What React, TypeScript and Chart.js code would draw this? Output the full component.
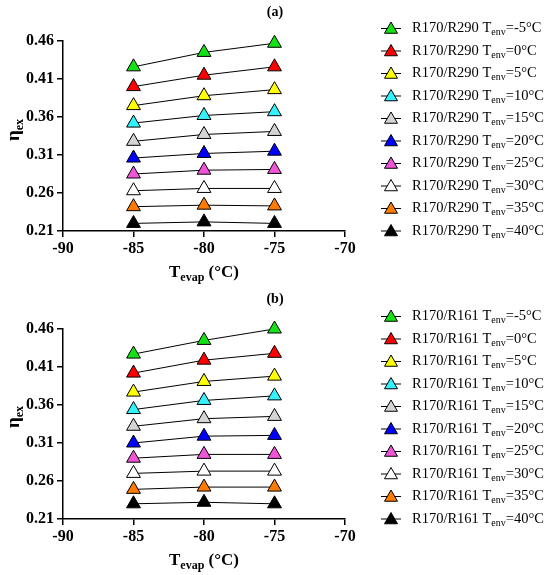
import { Chart, registerables, Plugin } from 'chart.js';
import { FC, useEffect, useRef } from 'react';

Chart.register(...registerables);

// evaporating temperatures and the tick marks of both panels
const evapTemps = [-85, -80, -75];
const xTicks = [-90, -85, -80, -75, -70];
const yTicks = [0.21, 0.26, 0.31, 0.36, 0.41, 0.46];
const envTemps = [-5, 0, 5, 10, 15, 20, 25, 30, 35, 40];

// panel (a): R170/R290
const r290_m5 = [0.426, 0.445, 0.457];
const r290_0 = [0.4, 0.415, 0.426];
const r290_5 = [0.375, 0.388, 0.396];
const r290_10 = [0.352, 0.362, 0.367];
const r290_15 = [0.328, 0.337, 0.341];
const r290_20 = [0.306, 0.312, 0.315];
const r290_25 = [0.285, 0.29, 0.291];
const r290_30 = [0.263, 0.266, 0.266];
const r290_35 = [0.242, 0.244, 0.243];
const r290_40 = [0.22, 0.222, 0.22];

// panel (b): R170/R161
const r161_m5 = [0.427, 0.445, 0.46];
const r161_0 = [0.402, 0.419, 0.428];
const r161_5 = [0.377, 0.391, 0.398];
const r161_10 = [0.354, 0.366, 0.372];
const r161_15 = [0.332, 0.342, 0.345];
const r161_20 = [0.31, 0.319, 0.32];
const r161_25 = [0.29, 0.295, 0.295];
const r161_30 = [0.27, 0.273, 0.273];
const r161_35 = [0.249, 0.252, 0.252];
const r161_40 = [0.23, 0.232, 0.23];

const r290Series = [r290_m5, r290_0, r290_5, r290_10, r290_15, r290_20, r290_25, r290_30, r290_35, r290_40];
const r161Series = [r161_m5, r161_0, r161_5, r161_10, r161_15, r161_20, r161_25, r161_30, r161_35, r161_40];

const markerColors = [
	'#16e016',
	'#ff0000',
	'#ffff00',
	'#33f2ff',
	'#d4d4d4',
	'#0000ff',
	'#f055d8',
	'#ffffff',
	'#ff7a00',
	'#000000',
];

const FAMILY = '"Liberation Serif", "Times New Roman", serif';

type Part = [string, boolean];

// draws text with subscript pieces
const drawRich = (
	ctx: CanvasRenderingContext2D,
	parts: Part[],
	x: number,
	y: number,
	size: number,
	subSize: number,
	bold: boolean,
	align: 'left' | 'center'
) => {
	const font = (s: number) => `${bold ? 'bold ' : ''}${s}px ${FAMILY}`;
	let w = 0;
	parts.forEach(([t, sub]) => {
		ctx.font = font(sub ? subSize : size);
		w += ctx.measureText(t).width;
	});
	let cx = align === 'center' ? x - w / 2 : x;
	ctx.textAlign = 'left';
	ctx.textBaseline = 'middle';
	ctx.fillStyle = '#000';
	parts.forEach(([t, sub]) => {
		ctx.font = font(sub ? subSize : size);
		ctx.fillText(t, cx, y + (sub ? size * 0.3 : 0));
		cx += ctx.measureText(t).width;
	});
};

const triangle = (ctx: CanvasRenderingContext2D, x: number, y: number, r: number, fill: string) => {
	ctx.beginPath();
	ctx.moveTo(x, y - r);
	ctx.lineTo(x + r * 0.866, y + r * 0.5);
	ctx.lineTo(x - r * 0.866, y + r * 0.5);
	ctx.closePath();
	ctx.fillStyle = fill;
	ctx.fill();
	ctx.lineWidth = 1;
	ctx.strokeStyle = '#000';
	ctx.stroke();
};

interface Props {
	tag: string;
	name: string;
	series: number[][];
	height: number;
	padTop: number;
}

const Panel: FC<Props> = ({ tag, name, series, height, padTop }) => {
	const canvasRef = useRef<HTMLCanvasElement | null>(null);

	useEffect(() => {
		if (!canvasRef.current) return;

		// titles, panel tag and the legend are drawn here
		const extras: Plugin<'line'> = {
			id: 'extras',
			afterDraw(chart) {
				const { ctx, chartArea } = chart;
				ctx.save();
				drawRich(ctx, [[tag, false]], 275, 12, 14, 14, true, 'center');
				const midX = (chartArea.left + chartArea.right) / 2;
				drawRich(ctx, [['T', false], ['evap', true], [' (°C)', false]], midX, chartArea.bottom + 42, 17, 12, true, 'center');

				ctx.save();
				ctx.translate(14, 130);
				ctx.rotate(-Math.PI / 2);
				drawRich(ctx, [['η', false], ['ex', true]], 0, 0, 19, 12, true, 'center');
				ctx.restore();

				const step = 22.5;
				const top = chartArea.bottom - step * (envTemps.length - 1);
				envTemps.forEach((t, i) => {
					const y = top + i * step;
					ctx.beginPath();
					ctx.moveTo(381, y);
					ctx.lineTo(401, y);
					ctx.lineWidth = 1;
					ctx.strokeStyle = '#000';
					ctx.stroke();
					triangle(ctx, 391, y + 1, 7.5, markerColors[i]);
					drawRich(ctx, [[name + ' T', false], ['env', true], [`=${t}°C`, false]], 412, y, 14.5, 10, false, 'left');
				});
				ctx.restore();
			},
		};

		const chart = new Chart(canvasRef.current, {
			type: 'line',
			data: {
				datasets: series.map((vals, i) => ({
					label: `${name} Tenv=${envTemps[i]}°C`,
					data: vals.map((v, j) => ({ x: evapTemps[j], y: v })),
					borderColor: '#000',
					borderWidth: 1,
					pointStyle: 'triangle',
					pointRadius: 8,
					pointBackgroundColor: markerColors[i],
					pointBorderColor: '#000',
					pointBorderWidth: 1,
					clip: false,
				})),
			},
			options: {
				animation: false,
				responsive: true,
				maintainAspectRatio: false,
				layout: { padding: { top: padTop, right: 205, left: 0, bottom: 0 } },
				plugins: { legend: { display: false }, tooltip: { enabled: false } },
				scales: {
					x: {
						type: 'linear',
						min: -90,
						max: -70,
						afterBuildTicks: (axis) => {
							axis.ticks = xTicks.map((v) => ({ value: v }));
						},
						afterFit: (axis) => {
							axis.height = 56;
						},
						grid: { drawOnChartArea: false, color: '#000', tickLength: 6, lineWidth: 1.5 },
						border: { color: '#000', width: 1.5 },
						ticks: {
							color: '#000',
							padding: 2,
							maxRotation: 0,
							font: { family: FAMILY, size: 16, weight: 'bold' },
						},
					},
					y: {
						min: 0.21,
						max: 0.46,
						afterBuildTicks: (axis) => {
							axis.ticks = yTicks.map((v) => ({ value: v }));
						},
						afterFit: (axis) => {
							axis.width = 63;
						},
						grid: { drawOnChartArea: false, color: '#000', tickLength: 6, lineWidth: 1.5 },
						border: { color: '#000', width: 1.5 },
						ticks: {
							color: '#000',
							padding: 3,
							font: { family: FAMILY, size: 16, weight: 'bold' },
							callback: (v) => Number(v).toFixed(2),
						},
					},
				},
			},
			plugins: [extras],
		});

		return () => chart.destroy();
	}, [tag, name, series, padTop]);

	return (
		<div style={{ position: 'relative', width: 550, height }}>
			<canvas ref={canvasRef}></canvas>
		</div>
	);
};

const App: FC = () => (
	<div style={{ position: 'absolute', left: 0, top: 0, width: 550, height: 575, background: '#fff' }}>
		<Panel tag="(a)" name="R170/R290" series={r290Series} height={287} padTop={41} />
		<Panel tag="(b)" name="R170/R161" series={r161Series} height={288} padTop={42} />
	</div>
);

export default App;
